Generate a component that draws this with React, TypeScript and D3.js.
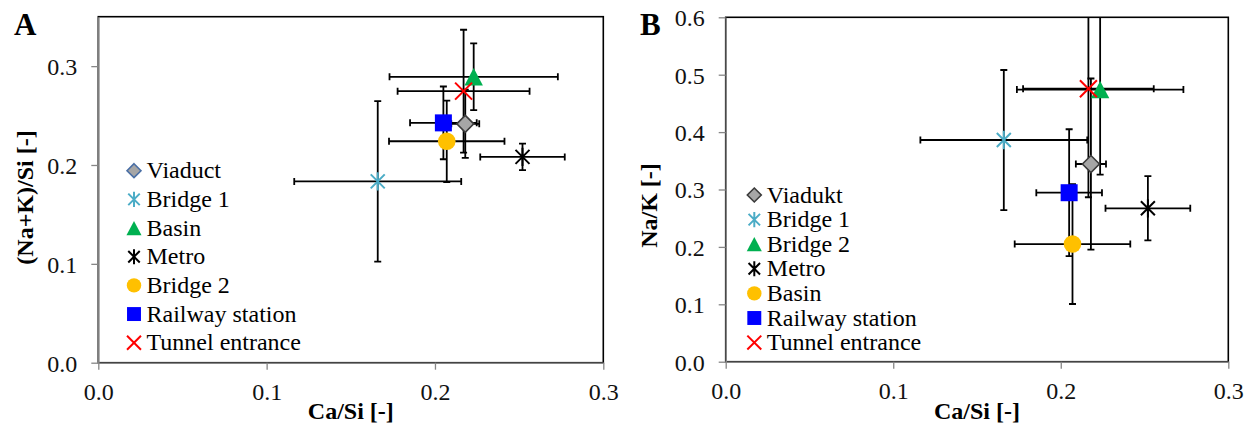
import React from 'react';
import * as d3 from 'd3';

// Ca/Si on both panels, same samples
const namesA = ["Viaduct", "Bridge 1", "Basin", "Metro", "Bridge 2", "Railway station", "Tunnel entrance"];
const kindsA = ["diamond", "starTeal", "triangle", "starBlack", "circle", "square", "cross"];
const caSiA = [0.218, 0.166, 0.223, 0.252, 0.207, 0.205, 0.217];
const caSiErrA = [0.0083, 0.0496, 0.050, 0.0251, 0.0343, 0.0198, 0.0392];
const naKSi = [0.2416, 0.1834, 0.2892, 0.2082, 0.224, 0.2426, 0.2747];
const naKSiErr = [0.0345, 0.0811, 0.0338, 0.0134, 0.0412, 0.0368, 0.0621];

const namesB = ["Viadukt", "Bridge 1", "Bridge 2", "Metro", "Basin", "Railway station", "Tunnel entrance"];
const kindsB = ["diamond", "starTeal", "triangle", "starBlack", "circle", "square", "cross"];
const caSiB = [0.218, 0.166, 0.2235, 0.252, 0.207, 0.205, 0.2165];
const caSiErrB = [0.009, 0.0498, 0.0497, 0.0253, 0.0345, 0.0196, 0.039];
const naK = [0.3444, 0.3862, 0.474, 0.2672, 0.205, 0.2944, 0.4755];
const naKErr = [0.149, 0.122, 0.148, 0.056, 0.1045, 0.1106, 0.189];

const xTicks = [0, 0.1, 0.2, 0.3];
const yTicksA = [0, 0.1, 0.2, 0.3];
const yTicksB = [0, 0.1, 0.2, 0.3, 0.4, 0.5, 0.6];

const FONT = "Liberation Serif, DejaVu Serif, Times New Roman, serif";
const AXIS_GRAY = "#868686";

const drawMarker = (g: any, kind: string, cx: number, cy: number, s: number, legendA = false) => {
    const r = 8.5 * s;
    if (kind === "diamond") {
        g.append("path")
            .attr("d", `M${cx},${cy - r}L${cx + r},${cy}L${cx},${cy + r}L${cx - r},${cy}Z`)
            .attr("fill", "#a6a6a6")
            .attr("stroke", legendA ? "#4a6fa5" : "#3a3a3a")
            .attr("stroke-width", 1.6);
    } else if (kind === "triangle") {
        const w = 9.2 * s, h = 8.7 * s;
        g.append("path")
            .attr("d", `M${cx},${cy - h}L${cx + w},${cy + h}L${cx - w},${cy + h}Z`)
            .attr("fill", "#00b050");
    } else if (kind === "square") {
        g.append("rect")
            .attr("x", cx - r).attr("y", cy - r)
            .attr("width", 2 * r).attr("height", 2 * r)
            .attr("fill", "#0000ff");
    } else if (kind === "circle") {
        g.append("circle")
            .attr("cx", cx).attr("cy", cy).attr("r", 8.8 * s)
            .attr("fill", "#ffc000");
    } else if (kind === "cross") {
        g.append("path")
            .attr("d", `M${cx - r},${cy - r}L${cx + r},${cy + r}M${cx - r},${cy + r}L${cx + r},${cy - r}`)
            .attr("stroke", "#ff0000")
            .attr("stroke-width", 2);
    } else {
        const col = kind === "starTeal" ? "#4bacc6" : "#000000";
        const d = 7 * s, v = 9.2 * s;
        g.append("path")
            .attr("d", `M${cx},${cy - v}L${cx},${cy + v}M${cx - d},${cy - d}L${cx + d},${cy + d}M${cx - d},${cy + d}L${cx + d},${cy - d}`)
            .attr("stroke", col)
            .attr("stroke-width", 2);
    }
};

const drawPanel = (svg: any, p: any) => {
    const x = d3.scaleLinear().domain([0, 0.3]).range([p.left, p.right]);
    const y = d3.scaleLinear().domain([0, p.yMax]).range([p.bottom, p.top]);
    const fmt = d3.format(".1f");

    // plot frame (top/right black)
    svg.append("rect")
        .attr("x", p.left).attr("y", p.top)
        .attr("width", p.right - p.left).attr("height", p.bottom - p.top)
        .attr("fill", "none").attr("stroke", "#000").attr("stroke-width", 1.6);

    const xAxis = svg.append("g")
        .attr("transform", `translate(0,${p.bottom})`)
        .call(d3.axisBottom(x).tickValues(xTicks).tickSize(7).tickSizeOuter(0).tickFormat(fmt))
        .attr("font-family", FONT).attr("font-size", 24);
    xAxis.select(".domain").attr("stroke", AXIS_GRAY).attr("stroke-width", 1.5);
    xAxis.selectAll(".tick line").attr("stroke", AXIS_GRAY).attr("stroke-width", 1.3);
    xAxis.selectAll("text")
        .attr("y", 37.5).attr("dy", 0)
        .attr("fill", "#111");

    const yAxis = svg.append("g")
        .attr("transform", `translate(${p.left},0)`)
        .call(d3.axisLeft(y).tickValues(p.yTicks).tickSize(7).tickSizeOuter(0).tickFormat(fmt))
        .attr("font-family", FONT).attr("font-size", 24);
    yAxis.select(".domain").attr("stroke", AXIS_GRAY).attr("stroke-width", 1.5);
    yAxis.selectAll(".tick line").attr("stroke", AXIS_GRAY).attr("stroke-width", 1.3);
    yAxis.selectAll("text")
        .attr("x", -21).attr("dy", "0.35em")
        .attr("fill", "#111");

    // error bars, clipped to the plot area
    svg.append("clipPath").attr("id", p.id)
        .append("rect")
        .attr("x", p.left).attr("y", p.top)
        .attr("width", p.right - p.left).attr("height", p.bottom - p.top);

    const bars = svg.append("g").attr("clip-path", `url(#${p.id})`)
        .attr("stroke", "#000").attr("stroke-width", 1.8).attr("fill", "none");
    const cap = 3.5;
    p.xs.forEach((xv: number, i: number) => {
        const yv = p.ys[i];
        const x0 = x(xv - p.xErr[i]), x1 = x(xv + p.xErr[i]);
        const y0 = y(yv - p.yErr[i]), y1 = y(yv + p.yErr[i]);
        const cx = x(xv), cy = y(yv);
        bars.append("path")
            .attr("d", `M${x0},${cy}H${x1}M${x0},${cy - cap}V${cy + cap}M${x1},${cy - cap}V${cy + cap}`);
        bars.append("path")
            .attr("d", `M${cx},${y0}V${y1}M${cx - cap},${y0}H${cx + cap}M${cx - cap},${y1}H${cx + cap}`);
    });

    const marks = svg.append("g");
    p.xs.forEach((xv: number, i: number) => {
        drawMarker(marks, p.kinds[i], x(xv), y(p.ys[i]), 1);
    });

    // legend
    const leg = svg.append("g").attr("font-family", FONT).attr("font-size", 24);
    p.names.forEach((name: string, i: number) => {
        const cy = p.legendY + i * p.legendStep;
        drawMarker(leg, p.kinds[i], p.legendX, cy, 0.82, p.legendA);
        leg.append("text")
            .attr("x", p.legendX + 12.5).attr("y", cy + 7.5)
            .attr("fill", "#000")
            .text(name);
    });

    // titles
    const titles = svg.append("g").attr("font-family", FONT).attr("font-weight", "bold");
    titles.append("text")
        .attr("x", (p.left + p.right) / 2).attr("y", 418.5)
        .attr("text-anchor", "middle").attr("font-size", 24)
        .text("Ca/Si [-]");
    titles.append("text")
        .attr("transform", `translate(${p.yTitleX},${p.yTitleY}) rotate(-90)`)
        .attr("text-anchor", "middle").attr("font-size", 24)
        .text(p.yTitle);
    titles.append("text")
        .attr("x", p.letterX).attr("y", 35).attr("font-size", 31)
        .text(p.letter);
};

const App = () => {
    const svgRef = React.useRef<SVGSVGElement>(null);

    React.useEffect(() => {
        const svg = d3.select(svgRef.current);
        svg.selectAll("*").remove();

        drawPanel(svg, {
            id: "clipA", left: 98.3, right: 603.3, top: 16.7, bottom: 362.7,
            yMax: 0.35, yTicks: yTicksA,
            xs: caSiA, xErr: caSiErrA, ys: naKSi, yErr: naKSiErr,
            names: namesA, kinds: kindsA,
            legendX: 134, legendY: 170.7, legendStep: 28.67, legendA: true,
            yTitle: "(Na+K)/Si [-]", yTitleX: 33, yTitleY: 197.5,
            letter: "A", letterX: 14,
        });

        drawPanel(svg, {
            id: "clipB", left: 725.7, right: 1228.3, top: 17.3, bottom: 361.7,
            yMax: 0.6, yTicks: yTicksB,
            xs: caSiB, xErr: caSiErrB, ys: naK, yErr: naKErr,
            names: namesB, kinds: kindsB,
            legendX: 754.3, legendY: 195, legendStep: 24.6, legendA: false,
            yTitle: "Na/K [-]", yTitleX: 657, yTitleY: 205.5,
            letter: "B", letterX: 640,
        });
    }, []);

    return (
        <svg ref={svgRef} width={1251} height={423}
            style={{ position: "absolute", left: 0, top: 0, background: "#fff" }} />
    );
};

export default App;
